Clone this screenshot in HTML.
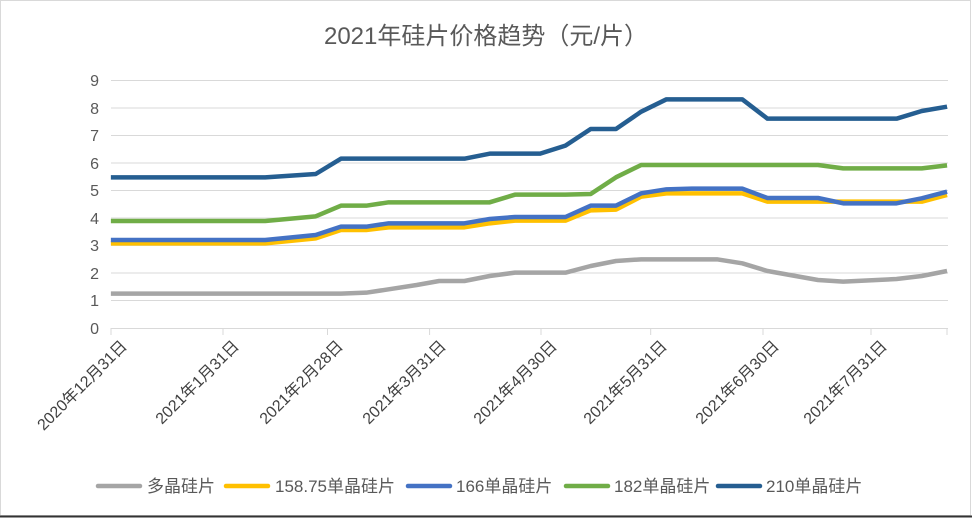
<!DOCTYPE html>
<html><head><meta charset="utf-8"><style>
body{margin:0;background:#fff;}
svg{display:block;font-family:"Liberation Sans","Noto Sans CJK SC",sans-serif;}
</style></head><body>
<svg width="972" height="518" viewBox="0 0 972 518">
<rect x="0.5" y="0.5" width="970" height="515" fill="#fff" stroke="#d9d9d9"/>
<line x1="0" y1="516.5" x2="972" y2="516.5" stroke="#333" stroke-width="2"/>
<text x="486" y="44" text-anchor="middle" font-size="24" fill="#595959">2021年硅片价格趋势（元/片）</text>
<g stroke="#d9d9d9" stroke-width="1">
<line x1="111" x2="948" y1="80.5" y2="80.5"/><line x1="111" x2="948" y1="108" y2="108"/>
<line x1="111" x2="948" y1="135.5" y2="135.5"/><line x1="111" x2="948" y1="163" y2="163"/>
<line x1="111" x2="948" y1="190.5" y2="190.5"/><line x1="111" x2="948" y1="218" y2="218"/>
<line x1="111" x2="948" y1="245.5" y2="245.5"/><line x1="111" x2="948" y1="273" y2="273"/>
<line x1="111" x2="948" y1="300.5" y2="300.5"/><line x1="111" x2="948" y1="328.5" y2="328.5"/>
<line x1="111" x2="111" y1="328" y2="335"/><line x1="223" x2="223" y1="328" y2="335"/>
<line x1="327.5" x2="327.5" y1="328" y2="335"/><line x1="429.6" x2="429.6" y1="328" y2="335"/>
<line x1="541" x2="541" y1="328" y2="335"/><line x1="650.7" x2="650.7" y1="328" y2="335"/>
<line x1="763" x2="763" y1="328" y2="335"/><line x1="871" x2="871" y1="328" y2="335"/>
<line x1="947" x2="947" y1="328" y2="335"/>
</g>
<g font-size="16" fill="#595959" text-anchor="end">
<text x="99" y="86">9</text><text x="99" y="114">8</text><text x="99" y="141">7</text>
<text x="99" y="169">6</text><text x="99" y="196">5</text><text x="99" y="224">4</text>
<text x="99" y="251">3</text><text x="99" y="279">2</text><text x="99" y="306">1</text><text x="99" y="334">0</text>
</g>
<g font-size="16" fill="#404040" text-anchor="end">
<text transform="translate(128,347) rotate(-45)">2020年12月31日</text>
<text transform="translate(240,347) rotate(-45)">2021年1月31日</text>
<text transform="translate(344,347) rotate(-45)">2021年2月28日</text>
<text transform="translate(447,347) rotate(-45)">2021年3月31日</text>
<text transform="translate(558,347) rotate(-45)">2021年4月30日</text>
<text transform="translate(668,347) rotate(-45)">2021年5月31日</text>
<text transform="translate(780,347) rotate(-45)">2021年6月30日</text>
<text transform="translate(888,347) rotate(-45)">2021年7月31日</text>
</g>
<g transform="translate(80,60) scale(0.5612,0.33333)" fill="none" stroke-linejoin="round">
<polyline vector-effect="non-scaling-stroke" stroke-width="4.5" stroke="#a5a5a5" points="55,701 465,701 510,698 550,688 600,675 640,663 685,663 730,648 775,638 865,638 910,618 955,603 1000,598 1135,598 1180,610 1225,633 1315,660 1360,665 1455,657 1500,648 1545,633"/>
<polyline vector-effect="non-scaling-stroke" stroke-width="4.5" stroke="#ffc000" points="55,550 330,550 420,535 465,510 510,510 550,502 685,502 730,490 775,482 865,482 910,451 955,449 1000,410 1045,400 1180,400 1225,425 1500,425 1545,405"/>
<polyline vector-effect="non-scaling-stroke" stroke-width="4.5" stroke="#4472c4" points="55,540 330,540 420,525 465,500 510,500 550,490 685,490 730,477 775,471 865,471 910,437 955,437 1000,400 1045,388 1090,386 1180,386 1225,414 1315,414 1360,430 1455,430 1500,415 1545,395"/>
<polyline vector-effect="non-scaling-stroke" stroke-width="4.5" stroke="#70ad47" points="55,483 330,483 420,469 465,437 510,437 550,427 730,427 775,404 865,404 910,402 955,352 1000,315 1315,315 1360,325 1500,325 1545,316"/>
<polyline vector-effect="non-scaling-stroke" stroke-width="4.5" stroke="#255e91" points="55,352 330,352 420,342 465,296 685,296 730,281 820,281 865,257 910,207 955,207 1000,155 1045,118 1180,118 1225,176 1455,176 1500,153 1545,140"/>
</g>
<g stroke-width="4.5" stroke-linecap="round">
<line x1="98" x2="140" y1="486" y2="486" stroke="#a5a5a5"/>
<line x1="226" x2="268" y1="486" y2="486" stroke="#ffc000"/>
<line x1="408" x2="450" y1="486" y2="486" stroke="#4472c4"/>
<line x1="566" x2="608" y1="486" y2="486" stroke="#70ad47"/>
<line x1="718" x2="760" y1="486" y2="486" stroke="#255e91"/>
</g>
<g font-size="17" fill="#595959">
<text x="147" y="492">多晶硅片</text>
<text x="275" y="492">158.75单晶硅片</text>
<text x="456" y="492">166单晶硅片</text>
<text x="614" y="492">182单晶硅片</text>
<text x="766" y="492">210单晶硅片</text>
</g>
</svg>
</body></html>
